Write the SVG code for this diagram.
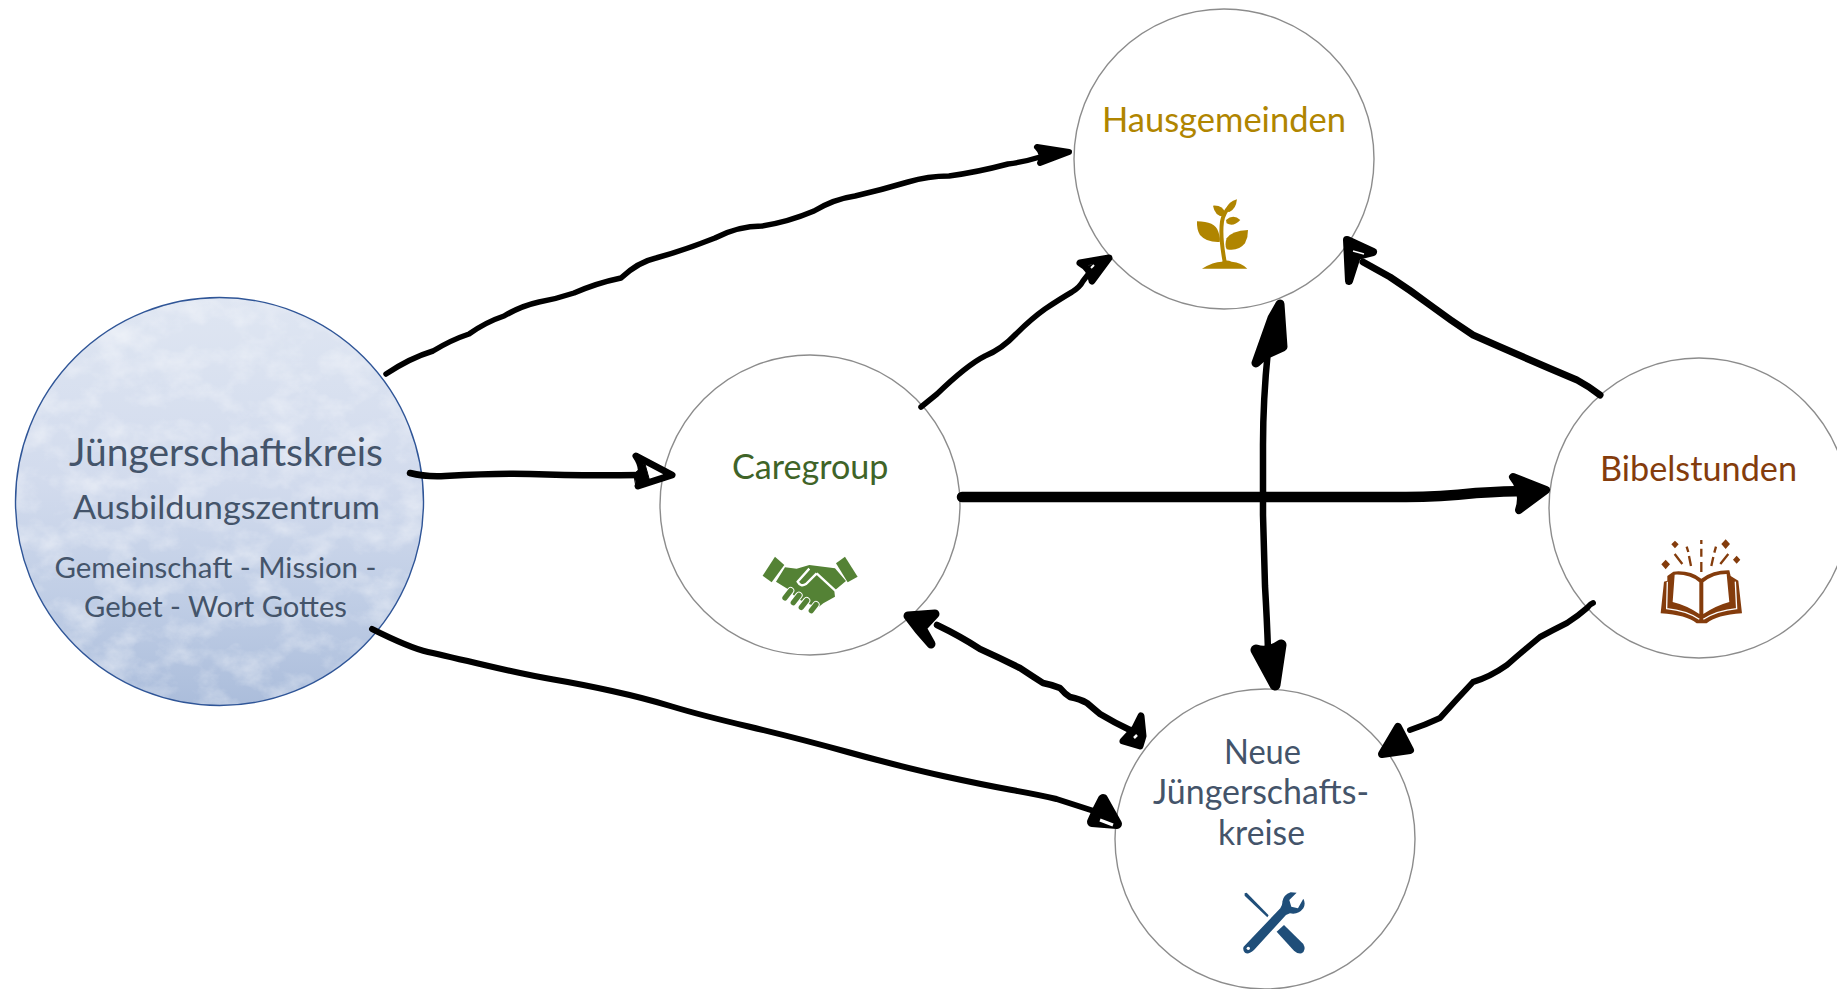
<svg xmlns="http://www.w3.org/2000/svg" width="1837" height="989" viewBox="0 0 1837 989">
<style>
text{font-family:"Lato","Carlito","Liberation Sans",sans-serif}
.c{fill:#fff;stroke:#8c8c8c;stroke-width:1.4}
.n{fill:none;stroke:#000;stroke-linecap:round;stroke-linejoin:round}
.h{fill:#000;stroke:#000;stroke-linecap:round;stroke-linejoin:round}
.o{fill:#fff;stroke:#000;stroke-linecap:round;stroke-linejoin:round}
.s{fill:#44546a}
</style>
<defs>
<linearGradient id="g" x1="0" y1="0" x2="0" y2="1">
<stop offset="0" stop-color="#dfe6f2"/><stop offset="0.45" stop-color="#d2dbed"/><stop offset="0.75" stop-color="#bfcde5"/><stop offset="1" stop-color="#abbddb"/>
</linearGradient>
<filter id="tex" x="0" y="0" width="1" height="1">
<feTurbulence type="fractalNoise" baseFrequency="0.03 0.04" numOctaves="5" seed="7"/>
<feColorMatrix values="0 0 0 0 1 0 0 0 0 1 0 0 0 0 1 0.9 0 0 0 -0.38"/>
<feComposite in2="SourceGraphic" operator="in"/>
</filter>
</defs>
<g id="node-juengerschaftskreis">
<circle cx="219.500" cy="501.500" r="204" fill="url(#g)"/>
<circle cx="219.500" cy="501.500" r="204" fill="#fff" filter="url(#tex)"/>
<circle cx="219.500" cy="501.500" r="204" fill="none" stroke="#2f5597" stroke-width="1.4"/>
<text class="s" x="69" y="465.500" font-size="38" textLength="314" lengthAdjust="spacingAndGlyphs">Jüngerschaftskreis</text>
<text class="s" x="73" y="518.500" font-size="33" textLength="307" lengthAdjust="spacingAndGlyphs">Ausbildungszentrum</text>
<text class="s" x="54.500" y="577.500" font-size="29" textLength="322" lengthAdjust="spacingAndGlyphs">Gemeinschaft - Mission -</text>
<text class="s" x="84" y="616.500" font-size="29" textLength="263" lengthAdjust="spacingAndGlyphs">Gebet - Wort Gottes</text>
</g>
<g id="node-hausgemeinden">
<circle class="c" cx="1224" cy="159" r="150"/>
<text x="1102" y="132" font-size="34" fill="#b08500" textLength="244" lengthAdjust="spacingAndGlyphs">Hausgemeinden</text>
<g transform="translate(1050 0) scale(.3333)" fill="#b08500">
<path d="M456 806Q490 785 515 785Q530 778 545 785Q575 788 592 806Z"/>
<path d="M524 785Q510 710 516 665Q520 640 540 618" fill="none" stroke="#b08500" stroke-width="12"/>
<path d="M441 664Q495 664 505 695Q512 715 509 726Q470 728 450 705Q440 690 441 664Z"/>
<path d="M594 690Q545 692 530 715Q523 735 530 748Q565 755 585 730Q595 710 594 690Z"/>
<path d="M561 598Q535 605 530 625Q530 637 538 636Q558 628 561 598Z"/>
<path d="M489 617Q520 615 525 640L522 649Q495 650 489 617Z"/>
<path d="M528 660Q550 640 571 660Q550 682 530 670Z"/>
</g>
</g>
<g id="node-caregroup">
<circle class="c" cx="810" cy="505" r="150"/>
<text x="732" y="478.500" font-size="34" fill="#3f6428" textLength="156.500" lengthAdjust="spacingAndGlyphs">Caregroup</text>
<g transform="translate(650 350) scale(.3333)">
<g fill="#548235">
<path d="M375 620L403 645L365 697L338 677Z"/>
<path d="M585 620L623 680L593 697L558 640Z"/>
<path d="M405 652L440 656L478 645L555 655L588 693L553 722L555 740L520 760L505 772L470 760L440 745L412 716L378 695Z"/>
</g>
<path d="M500 670L468 702Q452 712 443 695L478 656M500 670L556 722" fill="none" stroke="#fff" stroke-width="7"/>
<g fill="none" stroke-linecap="round">
<path d="M405 744L422 722M430 758L447 736M454 772L470 752M484 782L498 764" stroke="#fff" stroke-width="22"/>
<path d="M405 744L422 722M430 758L447 736M454 772L470 752M484 782L498 764" stroke="#548235" stroke-width="16"/>
</g>
</g>
</g>
<g id="node-bibelstunden">
<circle class="c" cx="1699" cy="508" r="150"/>
<text x="1600" y="481" font-size="34" fill="#843c0c" textLength="197" lengthAdjust="spacingAndGlyphs">Bibelstunden</text>
<g transform="translate(1540 340) scale(.3333)" fill="#843c0c">
<path d="M405 602L416 613L405 625L394 613ZM557 598L570 612L557 627L544 612ZM377 659L390 673L377 688L364 673ZM590 647L601 659L590 671L579 659Z"/>
<path d="M484 600V612M484 626V650M484 666V696M440 620L445 636M447 648L453 678M528 620L523 638M520 651L514 678M404 642L427 672M565 642L541 672" fill="none" stroke="#843c0c" stroke-width="7"/>
<path d="M362 820L372 725L382 722L382 708L400 695Q450 690 484 716Q520 690 568 691L572 708L595 722L606 820Q530 825 500 850L470 850Q440 825 362 820Z"/>
<path d="M404 704Q450 702 478 727V822Q440 796 398 786ZM490 727Q520 702 560 702L568 786Q530 796 490 822Z" fill="#fff"/>
<path d="M382 725L380 806Q440 812 478 838M586 725L590 806Q530 812 490 838" fill="none" stroke="#fff" stroke-width="4"/>
</g>
</g>
<g id="node-neue-juengerschaftskreise">
<circle class="c" cx="1265" cy="839" r="150"/>
<g class="s" font-size="34">
<text x="1224" y="763.500" textLength="77" lengthAdjust="spacingAndGlyphs">Neue</text>
<text x="1153" y="803.500" textLength="216" lengthAdjust="spacingAndGlyphs">Jüngerschafts-</text>
<text x="1218" y="844.500" textLength="87" lengthAdjust="spacingAndGlyphs">kreise</text>
</g>
<g transform="translate(1100 670) scale(.3333)" fill="#1f4e79">
<path d="M530 785L552 765L610 822Q620 840 605 850Q592 852 582 842Z"/>
<path d="M434 670L440 668L506 736L502 742L434 677Z"/>
<path d="M431 830L541 715Q548 705 547 695Q550 675 572 667L590 668L568 690L574 710L594 715L610 686Q618 700 610 715Q595 735 570 730L558 735L462 840Q445 855 435 848Q427 840 431 830Z"/>
<circle cx="445" cy="835" r="5" fill="#fff"/>
</g>
</g>
<g id="connectors">
<path class="n" stroke-width="5.500" d="M386 374Q410 358 433 351Q451 340 469 334Q486 322 504 316Q521 306 539 302Q556 299 574 293Q597 283 621 278Q638 262 656 258Q685 250 715 238Q738 226 762 226Q788 222 814 211Q834 199 855 196Q881 190 908 182Q928 176 949 176Q978 172 1008 164Q1024 162 1040 157L1066 152"/>
<path class="h" stroke-width="6" d="M1037 147L1069 152L1040 163Q1045 155 1037 147Z"/>
<path class="n" stroke-width="6.500" d="M410 473Q425 477 445 476Q500 473 530 474Q580 476 640 475"/>
<path class="o" stroke-width="7" d="M636 456L672 475L638 486Q646 470 636 456Z"/>
<path class="h" stroke-width="1" d="M634 474L645 464L650 482L636 485Z"/>
<path class="n" stroke-width="6" d="M372 629Q410 648 428 652Q446 656 486.500 665.500Q527 675 553.500 679.500Q580 684 612 691Q644 698 672 706.500Q700 715 748.500 726.500Q797 738 849.500 752.500Q902 767 943 776Q984 785 1012 790Q1040 795 1056.500 799L1100 813"/>
<path class="h" stroke-width="10" d="M1103 799L1117 824L1092 822Q1097 810 1103 799Z"/>
<path d="M1100 820L1113 825" stroke="#fff" stroke-width="3" fill="none"/>
<path class="n" stroke-width="5.500" d="M921 407L937 394Q967 365 985 356Q1002 349 1016 334Q1031 319 1045 309Q1060 299 1072 292Q1080 287 1083 281L1090 272"/>
<path class="o" stroke-width="7" d="M1080 263L1109 258L1092 281Q1091 269 1080 263Z"/>
<path d="M1084 267L1104 260L1094 276L1090 268Z" fill="#000"/>
<path d="M1091 268L1094 265" stroke="#fff" stroke-width="2" fill="none"/>
<path class="n" stroke-width="10.500" d="M962 497H1406Q1440 497 1476 493Q1510 491 1530 491"/>
<path class="h" stroke-width="8" d="M1513 477L1546 490L1519 510Q1525 492 1513 477Z"/>
<path class="n" stroke-width="6.500" d="M1268 350Q1263 400 1263 445Q1263 480 1263 515Q1264 550 1265 586Q1267 620 1268 650"/>
<path class="h" stroke-width="9" d="M1280 304L1283 347L1265 355L1256 363L1272 318Z"/>
<path class="h" stroke-width="11" d="M1281 645L1275 685L1256 650Q1268 654 1281 645Z"/>
<path class="n" stroke-width="6.500" d="M937 625Q960 636 980 649Q1000 658 1020 668Q1032 676 1043 683Q1053 685 1060 688Q1065 694 1070 697Q1080 699 1087 703Q1094 709 1100 714Q1115 723 1130 730"/>
<path class="h" stroke-width="9" d="M908 616L935 614L922 628L931 644Q918 630 908 616Z"/>
<path class="h" stroke-width="7" d="M1141 716L1143 736L1140 746L1123 741L1135 728Z"/>
<path d="M1134 738L1137 735" stroke="#fff" stroke-width="2.500" fill="none"/>
<path class="n" stroke-width="7" d="M1600 395Q1590 387 1577 380Q1525 358 1473 335Q1450 320 1430 305Q1410 290 1390 277L1363 262"/>
<path class="h" stroke-width="8" d="M1347 240L1373 252L1357 256L1349 281Z"/>
<path d="M1353 251L1364 254" stroke="#fff" stroke-width="1.500" fill="none"/>
<path class="n" stroke-width="6" d="M1593 603Q1590 604 1587 608Q1578 616 1567 623Q1553 630 1540 637Q1523 651 1507 665Q1490 677 1473 682Q1456 700 1440 718Q1425 725 1410 730"/>
<path class="h" stroke-width="8" d="M1398 727L1410 750L1382 754Z"/>
</g>
</svg>
